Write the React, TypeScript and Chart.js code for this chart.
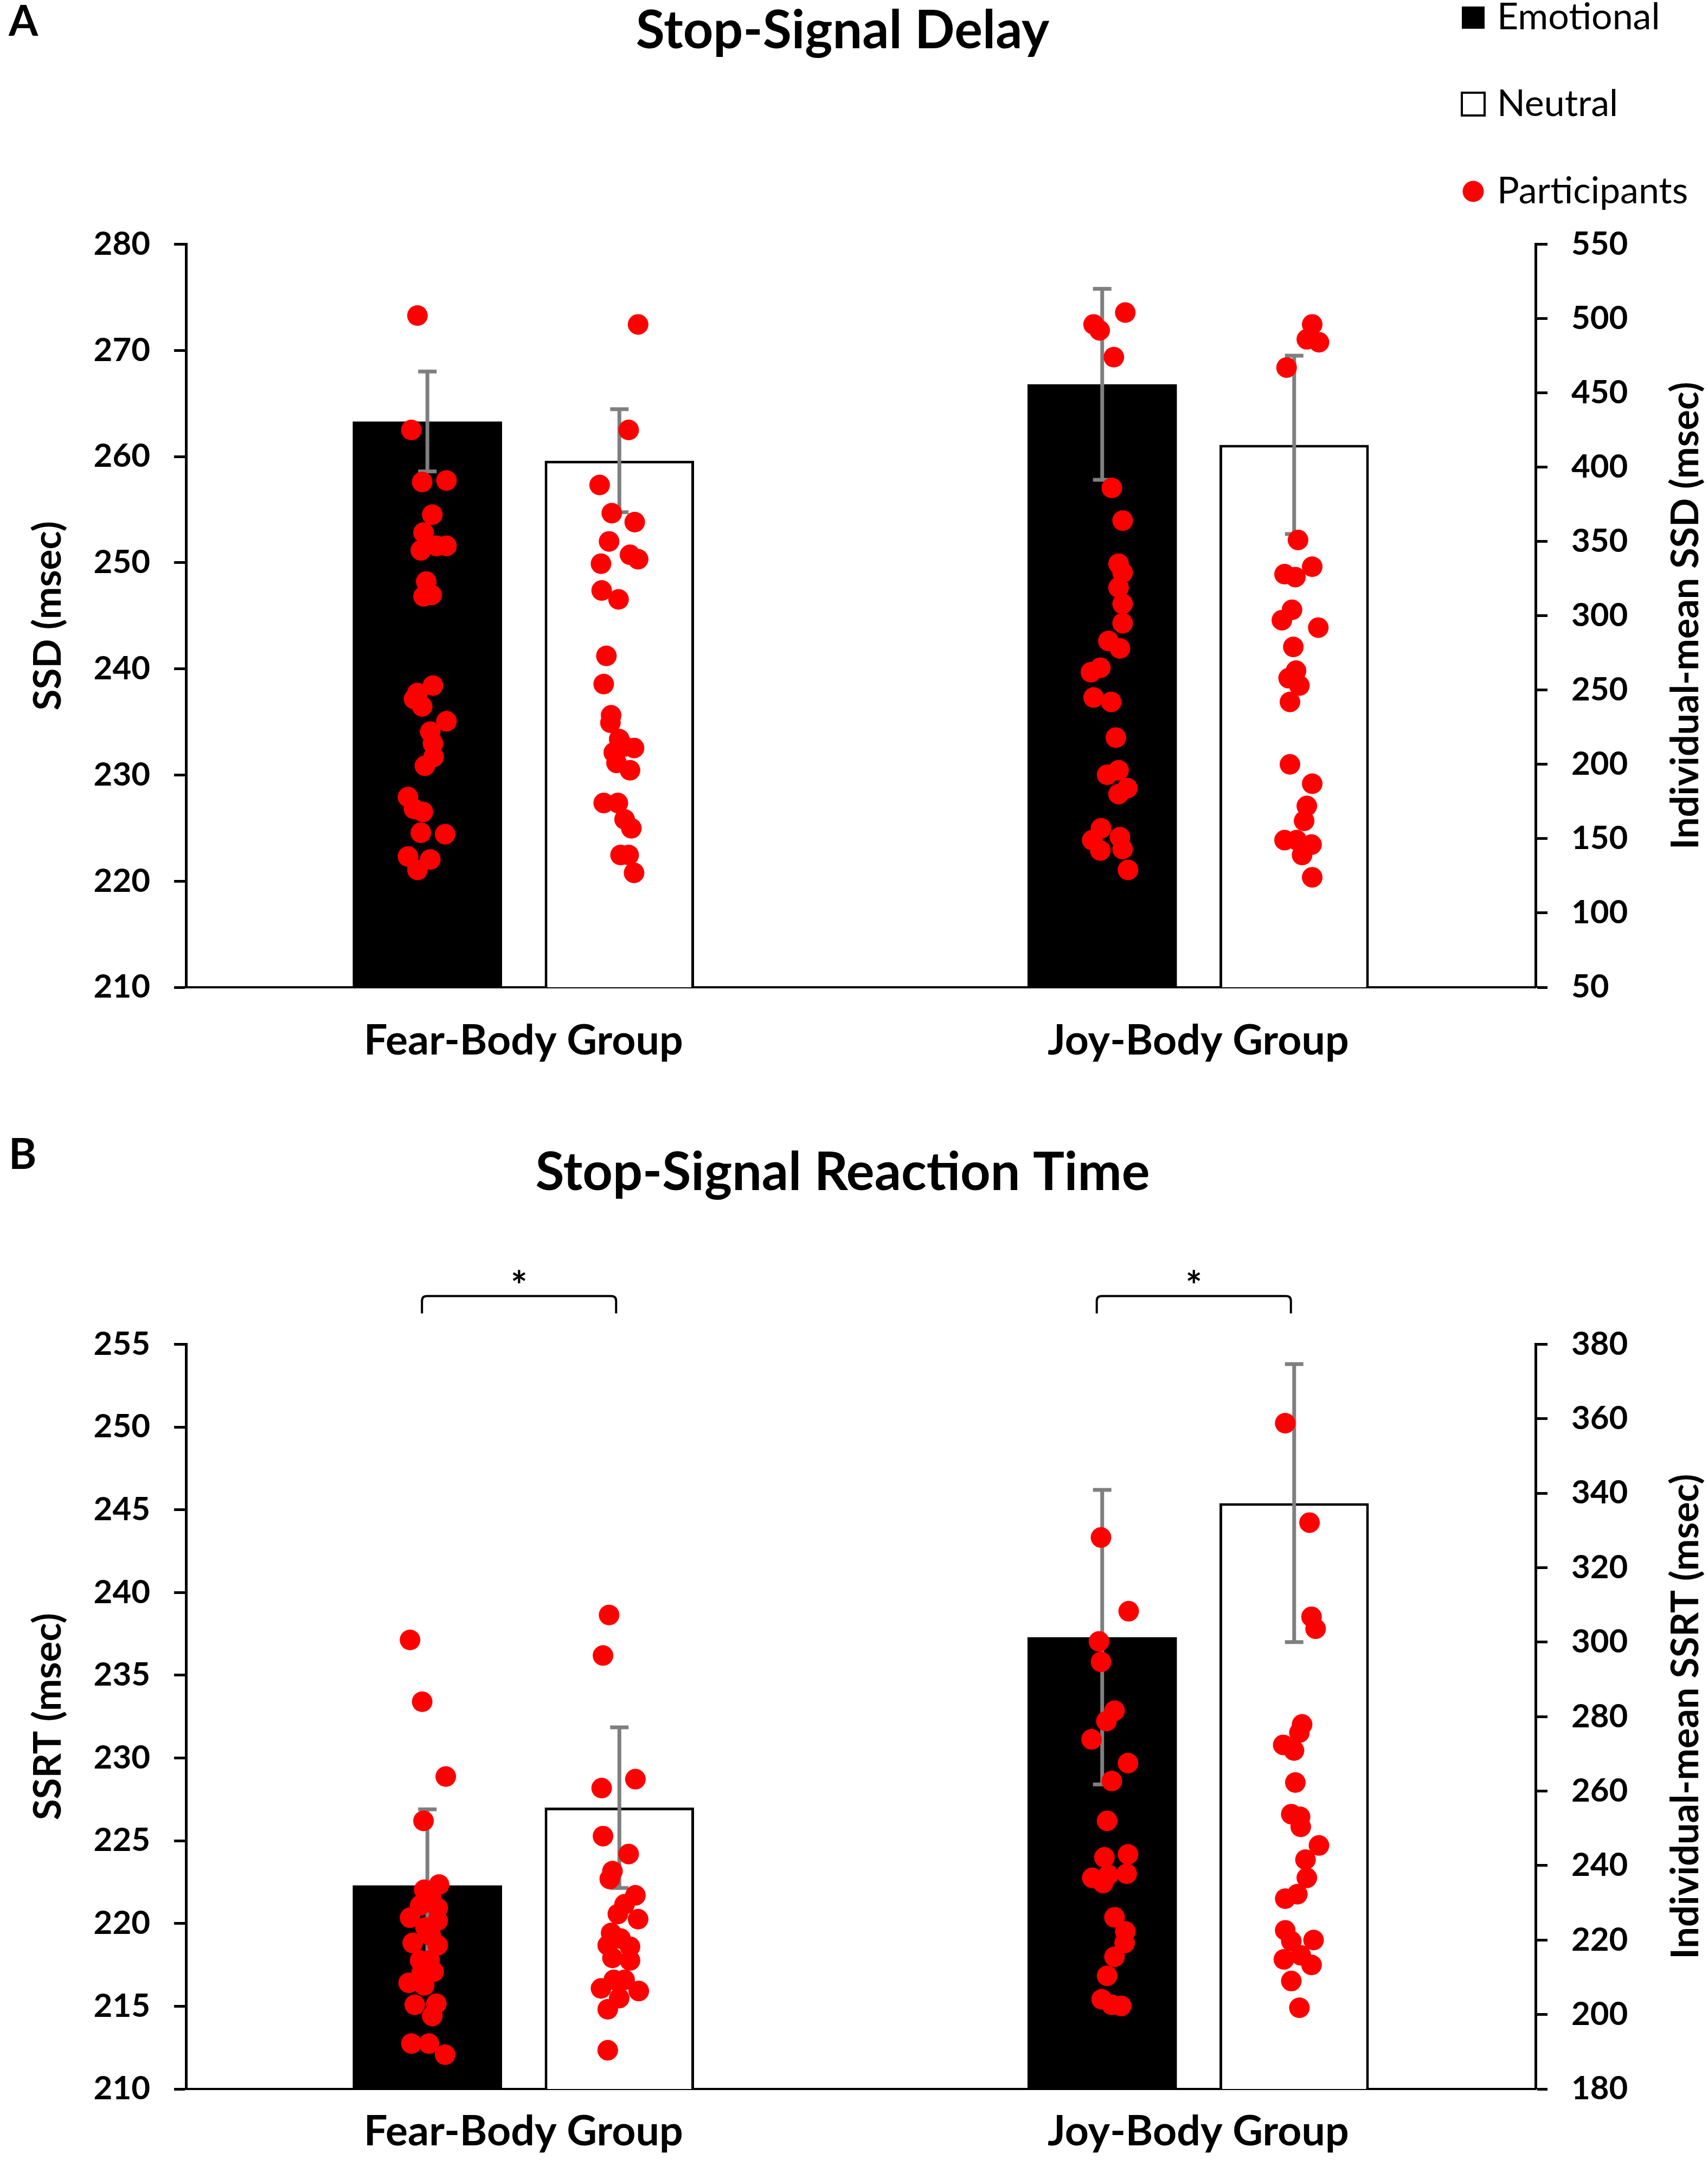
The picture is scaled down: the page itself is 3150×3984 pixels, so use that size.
import React, { useEffect, useRef } from 'react'
import { Chart, registerables } from 'chart.js'

Chart.register(...registerables)
Chart.defaults.color = '#000'

type Pt = [number, number]

const FONT = 'Lato, "Open Sans", sans-serif'
const RED = '#ff0000'
const GREY = '#7f7f7f'

const groups = ['Fear-Body Group', 'Joy-Body Group']

// ---- A: stop-signal delay ----
const ssdLeftTicks = [210, 220, 230, 240, 250, 260, 270, 280]
const ssdRightTicks = [50, 100, 150, 200, 250, 300, 350, 400, 450, 500, 550]
const ssdEmotional = [263.3, 266.8]
const ssdNeutral = [259.6, 261.1]
const ssdEmotionalErr = [4.7, 9.0]
const ssdNeutralErr = [4.85, 8.4]

// participants: [position along the group axis (group i spans i..i+1), individual mean]
const ssdFearEmotionalDots: Pt[] = [
  [0.343, 502], [0.334, 425], [0.35, 390], [0.386, 391], [0.365, 368], [0.352, 356],
  [0.386, 347], [0.348, 344], [0.371, 347], [0.356, 323], [0.352, 313], [0.364, 314],
  [0.366, 253], [0.343, 248], [0.338, 244], [0.35, 239], [0.386, 229], [0.362, 222],
  [0.366, 214], [0.367, 205], [0.354, 199], [0.329, 178], [0.338, 170], [0.351, 168],
  [0.348, 154], [0.384, 153], [0.329, 138], [0.362, 136], [0.343, 129],
]
const ssdFearNeutralDots: Pt[] = [
  [0.67, 496], [0.656, 425], [0.613, 388], [0.631, 369], [0.665, 363], [0.627, 350],
  [0.658, 341], [0.67, 338], [0.615, 335], [0.616, 317], [0.641, 311], [0.623, 273],
  [0.619, 254], [0.63, 233], [0.629, 228], [0.642, 217], [0.664, 211], [0.65, 212],
  [0.634, 208], [0.638, 201], [0.658, 196], [0.619, 174], [0.64, 174], [0.65, 163],
  [0.66, 157], [0.644, 139], [0.656, 139], [0.664, 127],
]
const ssdJoyEmotionalDots: Pt[] = [
  [1.392, 504], [1.345, 496], [1.354, 492], [1.375, 474], [1.372, 386], [1.388, 364],
  [1.382, 335], [1.388, 329], [1.382, 319], [1.388, 308], [1.388, 295], [1.367, 283],
  [1.384, 278], [1.355, 265], [1.341, 262], [1.345, 245], [1.371, 242], [1.378, 218],
  [1.382, 196], [1.365, 193], [1.395, 184], [1.382, 180], [1.356, 157], [1.343, 149],
  [1.384, 151], [1.355, 142], [1.388, 143], [1.396, 129],
]
const ssdJoyNeutralDots: Pt[] = [
  [1.669, 496], [1.661, 486], [1.679, 484], [1.631, 467], [1.648, 351], [1.669, 333],
  [1.628, 328], [1.644, 326], [1.639, 304], [1.624, 297], [1.678, 292], [1.641, 279],
  [1.645, 263], [1.634, 258], [1.65, 253], [1.636, 242], [1.636, 200], [1.669, 187],
  [1.661, 172], [1.657, 162], [1.628, 149], [1.646, 149], [1.668, 146], [1.654, 139],
  [1.669, 124],
]

// ---- B: stop-signal reaction time ----
const ssrtLeftTicks = [210, 215, 220, 225, 230, 235, 240, 245, 250, 255]
const ssrtRightTicks = [180, 200, 220, 240, 260, 280, 300, 320, 340, 360, 380]
const ssrtEmotional = [222.3, 237.3]
const ssrtNeutral = [227.0, 245.4]
const ssrtEmotionalErr = [4.6, 8.9]
const ssrtNeutralErr = [4.85, 8.4]

const ssrtFearEmotionalDots: Pt[] = [
  [0.332, 300.6], [0.35, 284.0], [0.385, 263.9], [0.352, 252.0], [0.375, 234.9], [0.353, 233.5],
  [0.363, 231.5], [0.347, 229.3], [0.373, 228.6], [0.332, 226.0], [0.373, 225.2], [0.355, 223.4],
  [0.336, 219.2], [0.363, 221.1], [0.373, 218.6], [0.347, 214.5], [0.361, 214.5], [0.367, 211.5],
  [0.33, 208.5], [0.353, 207.8], [0.339, 202.6], [0.371, 202.9], [0.365, 199.6], [0.334, 192.2],
  [0.36, 192.2], [0.384, 189.2], [0.349, 211.0],
]
const ssrtFearNeutralDots: Pt[] = [
  [0.627, 307.3], [0.618, 296.4], [0.666, 263.2], [0.616, 260.8], [0.618, 247.9], [0.656, 243.1],
  [0.632, 238.5], [0.628, 236.4], [0.666, 232.0], [0.65, 229.6], [0.64, 227.0], [0.67, 225.6],
  [0.63, 221.9], [0.644, 220.4], [0.625, 218.6], [0.658, 218.2], [0.632, 215.2], [0.658, 214.5],
  [0.634, 209.3], [0.615, 207.0], [0.671, 206.3], [0.642, 204.4], [0.625, 201.4], [0.65, 209.3],
  [0.625, 190.4],
]
const ssrtJoyEmotionalDots: Pt[] = [
  [1.356, 328.1], [1.397, 308.3], [1.353, 300.2], [1.356, 294.7], [1.376, 281.6], [1.364, 278.8],
  [1.342, 273.9], [1.396, 267.5], [1.372, 262.7], [1.365, 252.0], [1.361, 242.2], [1.396, 243.0],
  [1.343, 236.7], [1.359, 235.3], [1.394, 237.8], [1.367, 237.5], [1.376, 226.1], [1.392, 222.3],
  [1.391, 219.2], [1.376, 215.5], [1.365, 210.4], [1.357, 204.1], [1.372, 202.6], [1.386, 202.3],
]
const ssrtJoyNeutralDots: Pt[] = [
  [1.629, 358.8], [1.665, 332.1], [1.668, 306.8], [1.674, 303.6], [1.654, 277.9], [1.65, 275.7],
  [1.626, 272.4], [1.642, 270.9], [1.644, 262.3], [1.638, 253.8], [1.651, 253.1], [1.652, 250.4],
  [1.679, 245.4], [1.659, 241.6], [1.661, 236.7], [1.629, 231.1], [1.647, 232.3], [1.629, 222.6],
  [1.638, 219.7], [1.671, 220.0], [1.652, 215.9], [1.627, 214.8], [1.668, 213.3], [1.638, 209.0],
  [1.65, 201.8],
]
// groups with a significant emotional/neutral difference
const ssrtStarred = [0, 1]

type PanelProps = {
  letter: string
  title: string
  leftTitle: string
  rightTitle: string
  leftTicks: number[]
  rightTicks: number[]
  emotional: number[]
  neutral: number[]
  emotionalErr: number[]
  neutralErr: number[]
  dots: Pt[]
  height: number
  titlePad: [number, number]
  labelPad: number
  letterY: number
  showLegend?: boolean
  starred?: number[]
}

const Panel: React.FC<PanelProps> = (p) => {
  const ref = useRef<HTMLCanvasElement | null>(null)

  useEffect(() => {
    if (!ref.current) return
    const lt = p.leftTicks
    const rt = p.rightTicks

    const decor = {
      id: 'decor',
      beforeDatasetDraw(chart: any, args: any) {
        if (args.index !== 0) return
        // error bars go between the bars and the participant dots
        const y = chart.scales.y
        const ctx = chart.ctx
        ctx.save()
        ctx.strokeStyle = GREY
        ctx.lineWidth = 7
        const sets: [number, number[]][] = [[1, p.emotionalErr], [2, p.neutralErr]]
        sets.forEach(([di, err]) => {
          chart.getDatasetMeta(di).data.forEach((bar: any, j: number) => {
            const v = chart.data.datasets[di].data[j] as number
            const t = y.getPixelForValue(v + err[j])
            const b = y.getPixelForValue(v - err[j])
            ctx.beginPath()
            ctx.moveTo(bar.x, t)
            ctx.lineTo(bar.x, b)
            ctx.moveTo(bar.x - 17, t)
            ctx.lineTo(bar.x + 17, t)
            ctx.moveTo(bar.x - 17, b)
            ctx.lineTo(bar.x + 17, b)
            ctx.stroke()
          })
        })
        ctx.restore()
      },
      afterDraw(chart: any) {
        const ctx = chart.ctx
        const ca = chart.chartArea
        ctx.save()
        ctx.fillStyle = '#000'
        ctx.textBaseline = 'middle'

        ctx.font = `bold 78px ${FONT}`
        ctx.textAlign = 'left'
        ctx.fillText(p.letter, 16, p.letterY)

        // right axis title, reading bottom to top
        ctx.save()
        ctx.translate(3109, (ca.top + ca.bottom) / 2)
        ctx.rotate(-Math.PI / 2)
        ctx.textAlign = 'center'
        ctx.font = `bold 70px ${FONT}`
        ctx.fillText(p.rightTitle, 0, 0)
        ctx.restore()

        if (p.showLegend) {
          const labels = chart.data.datasets.map((d: any) => d.label)
          const order = [labels[1], labels[2], labels[0]]
          const rows = [32, 192, 353]
          ctx.fillRect(2696, 12, 42, 41)
          ctx.strokeStyle = '#000'
          ctx.lineWidth = 4
          ctx.strokeRect(2696, 171, 42, 42)
          ctx.fillStyle = RED
          ctx.beginPath()
          ctx.arc(2717, 353, 19.5, 0, Math.PI * 2)
          ctx.fill()
          ctx.fillStyle = '#000'
          ctx.font = `68px ${FONT}`
          ctx.textAlign = 'left'
          order.forEach((t: string, i: number) => ctx.fillText(t, 2761, rows[i]))
        }

        if (p.starred) {
          const ya = ca.top - 89
          const yb = ca.top - 57
          ctx.strokeStyle = '#000'
          ctx.lineWidth = 4
          p.starred.forEach((g) => {
            const x1 = chart.getDatasetMeta(1).data[g].x - 10
            const x2 = chart.getDatasetMeta(2).data[g].x - 6
            ctx.beginPath()
            ctx.moveTo(x1, yb)
            ctx.lineTo(x1, ya + 9)
            ctx.quadraticCurveTo(x1, ya, x1 + 9, ya)
            ctx.lineTo(x2 - 9, ya)
            ctx.quadraticCurveTo(x2, ya, x2, ya + 9)
            ctx.lineTo(x2, yb)
            ctx.stroke()
            ctx.font = `bold 72px ${FONT}`
            ctx.textAlign = 'center'
            ctx.fillText('*', (x1 + x2) / 2, ya - 16)
          })
        }
        ctx.restore()
      },
    }

    const tickFont = { family: FONT, size: 60, weight: 'bold' as const }
    const yGrid = { drawOnChartArea: false, tickLength: 22, tickWidth: 5, tickColor: '#000' }
    const yBorder = { display: true, color: '#000', width: 5 }

    const chart = new Chart(ref.current, {
      type: 'bar',
      data: {
        labels: groups,
        datasets: [
          {
            type: 'scatter',
            label: 'Participants',
            // category index units: group i is centred on i
            data: p.dots.map(([x, y]) => ({ x: x - 0.5, y })),
            parsing: false,
            xAxisID: 'x',
            yAxisID: 'y1',
            pointRadius: 19,
            pointBackgroundColor: RED,
            pointBorderWidth: 0,
            order: 0,
          } as any,
          {
            type: 'bar',
            label: 'Emotional',
            data: p.emotional,
            xAxisID: 'x',
            yAxisID: 'y',
            backgroundColor: '#000',
            borderColor: '#000',
            borderWidth: 0,
            categoryPercentage: 0.569,
            barPercentage: 0.778,
            order: 1,
          },
          {
            type: 'bar',
            label: 'Neutral',
            data: p.neutral,
            xAxisID: 'x',
            yAxisID: 'y',
            backgroundColor: '#fff',
            borderColor: '#000',
            borderWidth: 5,
            categoryPercentage: 0.569,
            barPercentage: 0.778,
            order: 2,
          },
        ],
      },
      options: {
        animation: false,
        responsive: false,
        devicePixelRatio: 1,
        events: [],
        layout: { padding: { left: 0, right: 42, top: 0, bottom: 0 } },
        plugins: {
          legend: { display: false },
          tooltip: { enabled: false },
          title: {
            display: true,
            text: p.title,
            color: '#000',
            font: { family: FONT, size: 97, weight: 'bold' },
            padding: { top: p.titlePad[0], bottom: p.titlePad[1] },
          },
        },
        scales: {
          x: {
            type: 'category',
            position: 'bottom',
            offset: true,
            grid: { display: false, drawTicks: false },
            border: { display: true, color: '#000', width: 4 },
            ticks: {
              font: { family: FONT, size: 77, weight: 'bold' },
              color: '#000',
              padding: p.labelPad,
              maxRotation: 0,
            },
            afterFit: (s: any) => {
              s.height = p.height - 1821
            },
          },
          y: {
            position: 'left',
            min: lt[0],
            max: lt[lt.length - 1],
            ticks: { stepSize: lt[1] - lt[0], font: tickFont, color: '#000', padding: 44 },
            grid: yGrid,
            border: yBorder,
            title: {
              display: true,
              text: p.leftTitle,
              color: '#000',
              font: { family: FONT, size: 71, weight: 'bold' },
              padding: { top: 47, bottom: 0 },
            },
            afterFit: (s: any) => {
              s.width = 343
            },
          },
          y1: {
            position: 'right',
            min: rt[0],
            max: rt[rt.length - 1],
            ticks: { stepSize: rt[1] - rt[0], font: tickFont, color: '#000', padding: 44 },
            grid: yGrid,
            border: yBorder,
            afterFit: (s: any) => {
              s.width = 276
            },
          },
        },
      },
      plugins: [decor],
    })
    return () => chart.destroy()
  }, [p])

  return (
    <canvas
      ref={ref}
      width={3150}
      height={p.height}
      style={{ display: 'block', width: 3150, height: p.height }}
    />
  )
}

export default function App() {
  return (
    <div style={{ position: 'absolute', left: 0, top: 0, width: 3150, background: '#fff' }}>
      <Panel
        letter="A"
        title="Stop-Signal Delay"
        leftTitle="SSD (msec)"
        rightTitle="Individual-mean SSD (msec)"
        leftTicks={ssdLeftTicks}
        rightTicks={ssdRightTicks}
        emotional={ssdEmotional}
        neutral={ssdNeutral}
        emotionalErr={ssdEmotionalErr}
        neutralErr={ssdNeutralErr}
        dots={[...ssdFearEmotionalDots, ...ssdFearNeutralDots, ...ssdJoyEmotionalDots, ...ssdJoyNeutralDots]}
        height={2032}
        titlePad={[0, 334]}
        labelPad={53}
        letterY={41}
        showLegend
      />
      <Panel
        letter="B"
        title="Stop-Signal Reaction Time"
        leftTitle="SSRT (msec)"
        rightTitle="Individual-mean SSRT (msec)"
        leftTicks={ssrtLeftTicks}
        rightTicks={ssrtRightTicks}
        emotional={ssrtEmotional}
        neutral={ssrtNeutral}
        emotionalErr={ssrtEmotionalErr}
        neutralErr={ssrtNeutralErr}
        dots={[...ssrtFearEmotionalDots, ...ssrtFearNeutralDots, ...ssrtJoyEmotionalDots, ...ssrtJoyNeutralDots]}
        height={1952}
        titlePad={[74, 257]}
        labelPad={33}
        letterY={99}
        starred={ssrtStarred}
      />
    </div>
  )
}
